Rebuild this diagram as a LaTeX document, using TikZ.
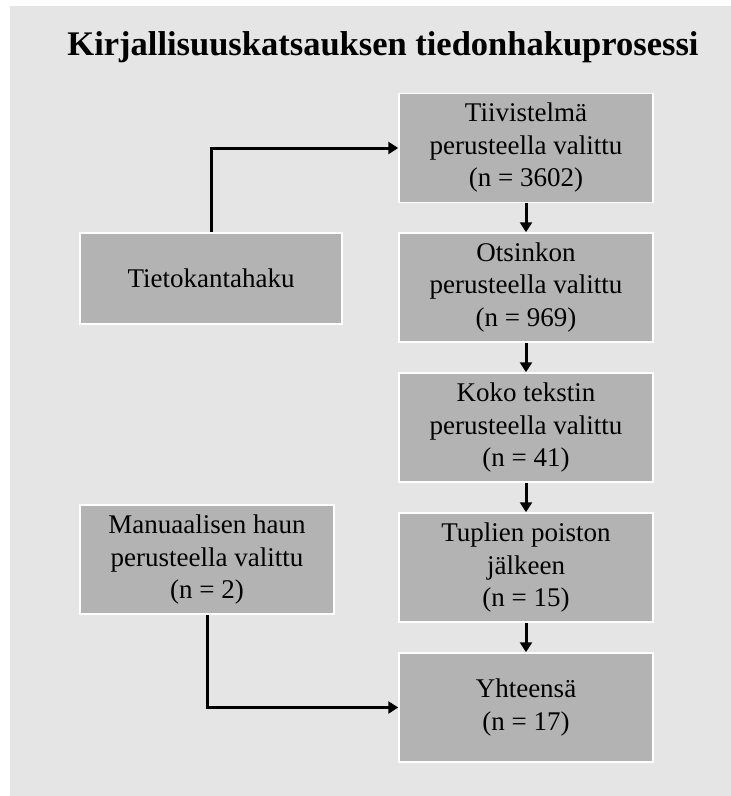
\documentclass[tikz,border=0pt]{standalone}
\usepackage{fontspec}
\setmainfont{Liberation Serif}
\usetikzlibrary{arrows.meta}
\definecolor{panelgray}{HTML}{E5E5E5}
\definecolor{boxgray}{HTML}{B3B3B3}
\tikzset{
  stagebox/.style={draw=white, line width=1.5pt, fill=boxgray, align=center,
    inner sep=0pt, minimum width=254pt, minimum height=109pt,
    font=\fontsize{27}{32.5}\selectfont},
  flowarrow/.style={line width=3pt, -{Triangle[length=10pt,width=12pt]}}
}
\begin{document}
\begin{tikzpicture}[x=1pt, y=-1pt]
  % Page and panel
  \useasboundingbox (0,0) rectangle (731,796);
  \fill[white] (0,0) rectangle (731,796);
  \fill[panelgray] (10,6) rectangle (731,796);

  % Title
  \node (title) at (383,47) {\fontsize{34.5}{40}\selectfont\bfseries Kirjallisuuskatsauksen tiedonhakuprosessi};

  % Right column
  \node[stagebox] (abstract) at (526,148) {Tiivistelmä\\perusteella valittu\\(n = 3602)};
  \node[stagebox] (heading)  at (526,287.5) {Otsinkon\\perusteella valittu\\(n = 969)};
  \node[stagebox] (fulltext) at (526,427.5) {Koko tekstin\\perusteella valittu\\(n = 41)};
  \node[stagebox] (dedup)    at (526,567.5) {Tuplien poiston\\jälkeen\\(n = 15)};
  \node[stagebox] (total)    at (526,707.5) {Yhteensä\\(n = 17)};

  % Left column
  \node[stagebox, minimum width=262pt, minimum height=91pt] (dbsearch) at (211,278.5) {Tietokantahaku};
  \node[stagebox] (manual) at (207,559.5) {Manuaalisen haun\\perusteella valittu\\(n = 2)};

  % Connectors
  \draw[flowarrow] (dbsearch.north) |- (abstract.west);
  \draw[flowarrow] (manual.south) |- (total.west);
  \draw[flowarrow] (abstract) -- (heading);
  \draw[flowarrow] (heading) -- (fulltext);
  \draw[flowarrow] (fulltext) -- (dedup);
  \draw[flowarrow] (dedup) -- (total);
\end{tikzpicture}
\end{document}
